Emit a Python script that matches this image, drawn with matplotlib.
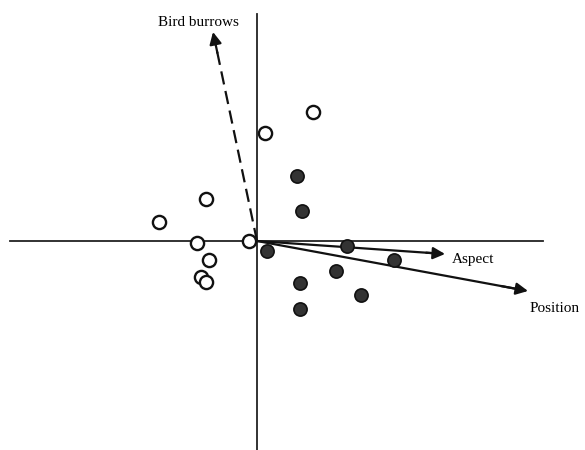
import matplotlib
matplotlib.use('Agg')
from matplotlib import pyplot as plt

# ordination scores of the sites
open_x = [0.56, 0.08, -0.51, -0.98, -0.60, -0.08, -0.48, -0.56, -0.51]
open_y = [1.29, 1.08, 0.42, 0.19, -0.02, 0.00, -0.19, -0.36, -0.41]
filled_x = [0.40, 0.45, 0.10, 0.90, 1.37, 0.79, 0.43, 1.04, 0.43]
filled_y = [0.65, 0.30, -0.10, -0.05, -0.19, -0.30, -0.42, -0.54, -0.68]

# environmental vectors
vec_names = ["Bird burrows", "Aspect", "Position"]
vec_x = [-0.44, 1.88, 2.71]
vec_y = [2.09, -0.13, -0.50]

plt.rcParams['font.family'] = ['Liberation Serif', 'DejaVu Serif']

fig = plt.figure(figsize=(5.85, 4.5), dpi=100)
ax = fig.add_axes([0, 0, 1, 1])
ax.set_xlim(-2.57, 3.28)
ax.set_ylim(-2.09, 2.41)
ax.axis('off')

# axes through origin
ax.plot([-2.47, 2.86], [0, 0], color='#222222', lw=1.3, zorder=1)
ax.plot([0, 0], [-2.09, 2.27], color='#222222', lw=1.3, zorder=1)

# vectors
for name, vx, vy in zip(vec_names, vec_x, vec_y):
    dashed = name == "Bird burrows"
    ax.plot([0, vx * 0.95], [0, vy * 0.95], color='#111111', lw=1.6,
            ls=(0, (6, 3)) if dashed else '-', zorder=2)
    ax.annotate('', xy=(vx, vy), xytext=(vx * 0.9, vy * 0.9),
                arrowprops=dict(arrowstyle='-|>', color='#111111', lw=1.6,
                                mutation_scale=18, shrinkA=0, shrinkB=0),
                zorder=3)

ax.text(vec_x[0] - 0.15, vec_y[0] + 0.10, vec_names[0], fontsize=11,
        ha='center', va='center')
ax.text(vec_x[1] + 0.07, vec_y[1] - 0.05, vec_names[1], fontsize=11,
        ha='left', va='center')
ax.text(vec_x[2] + 0.02, vec_y[2] - 0.17, vec_names[2], fontsize=11,
        ha='left', va='center')

# sites
ax.plot(open_x, open_y, 'o', ms=9.5, mfc='white', mec='#111111', mew=1.7,
        ls='none', zorder=4)
ax.plot(filled_x, filled_y, 'o', ms=9.5, mfc='#333333', mec='#111111',
        mew=1.2, ls='none', zorder=4)

fig.savefig('out.png', dpi=100)
plt.close()
